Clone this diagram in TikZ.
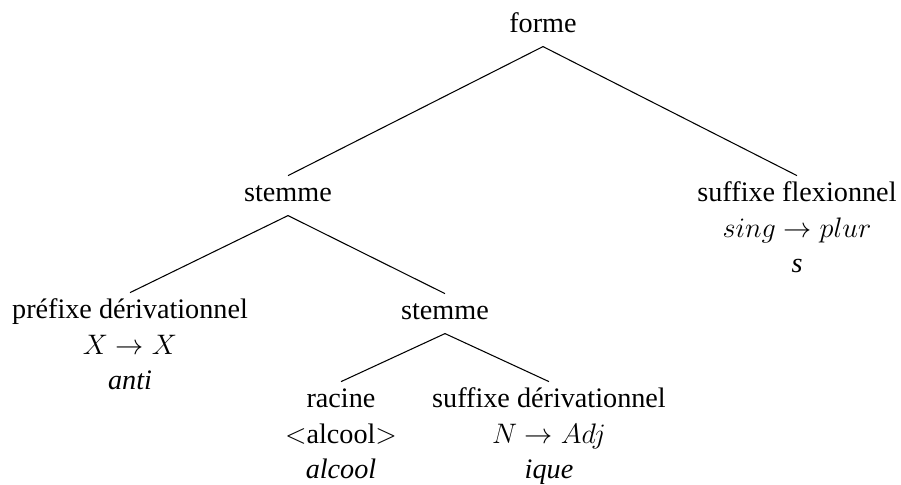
\documentclass[tikz,border=0pt]{standalone}
\usepackage{fontspec}
\setmainfont{Liberation Serif}
\begin{document}
\begin{tikzpicture}[x=0.4255pt,y=-0.4255pt,
    lbl/.style={anchor=base, font=\fontsize{12}{14}\selectfont, inner sep=0pt},
    head/.style={lbl, text height=8.4pt, text depth=3.8pt, inner xsep=0pt, inner ysep=2.2pt},
    branch/.style={line width=0.45pt}]
\useasboundingbox (0,0) rectangle (901,484);

% inner nodes of the tree
\node[head] (forme)   at (543,32)  {forme};
\node[head] (stemA)   at (288,201) {stemme};
\node[head] (stemB)   at (445,319) {stemme};

% leaves: category, function, form
\node[head] (sflex)   at (797,201) {suffixe flexionnel};
\node[lbl]  (sflexF)  at (797,237) {$sing \rightarrow plur$};
\node[lbl]  (sflexM)  at (797,272) {\textit{s}};

\node[head] (pref)    at (130,318) {préfixe dérivationnel};
\node[lbl]  (prefF)   at (130,354) {$X \rightarrow X$};
\node[lbl]  (prefM)   at (130,389) {\textit{anti}};

\node[head] (rac)     at (341,407) {racine};
\node[lbl]  (racF)    at (341,443) {$<$alcool$>$};
\node[lbl]  (racM)    at (341,478) {\textit{alcool}};

\node[head] (sder)    at (549,407) {suffixe dérivationnel};
\node[lbl]  (sderF)   at (549,443) {$N \rightarrow Adj$};
\node[lbl]  (sderM)   at (549,478) {\textit{ique}};

% branches
\draw[branch] (forme.south) -- (stemA.north);
\draw[branch] (forme.south) -- (sflex.north);
\draw[branch] (stemA.south) -- (pref.north);
\draw[branch] (stemA.south) -- (stemB.north);
\draw[branch] (stemB.south) -- (rac.north);
\draw[branch] (stemB.south) -- (sder.north);
\end{tikzpicture}
\end{document}
